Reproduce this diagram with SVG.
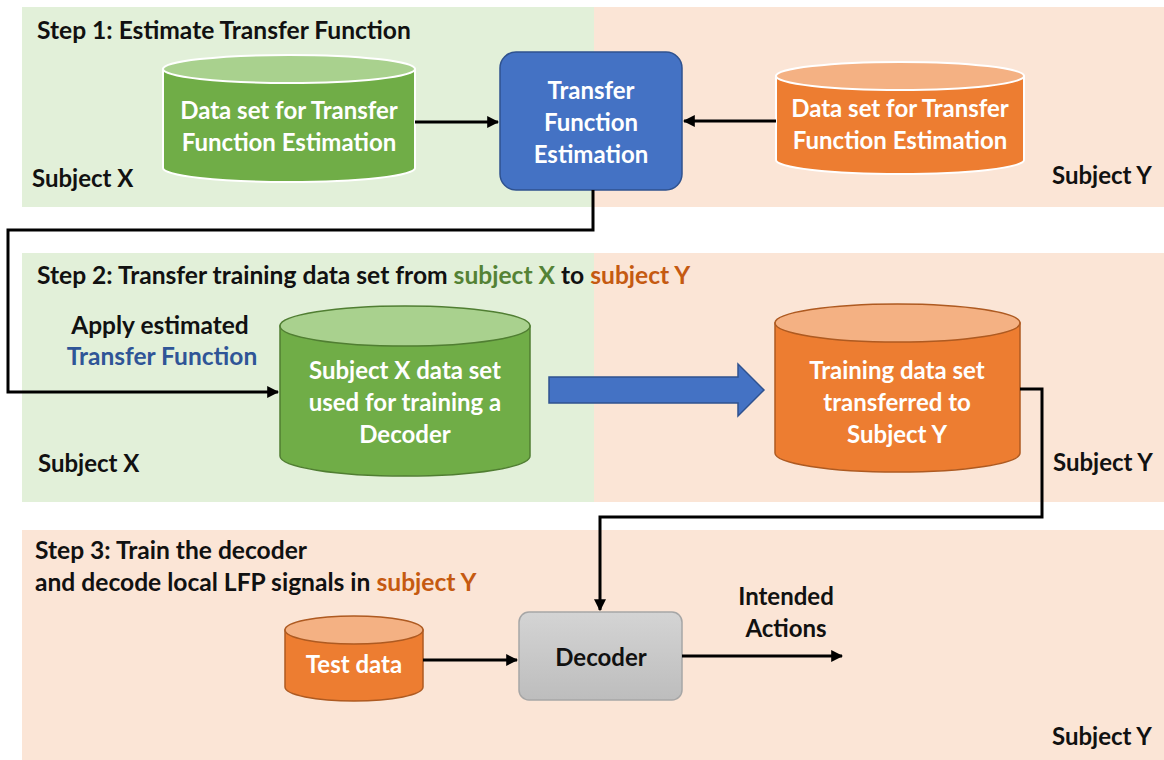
<svg xmlns="http://www.w3.org/2000/svg" width="1164" height="760" viewBox="0 0 1164 760">
  <defs>
    <style>
      text { font-family: Lato, "Liberation Sans", sans-serif; font-weight: bold; }
      .title { font-size: 24.6px; fill: #111; }
      .subj { font-size: 24px; fill: #111; }
      .lbl { font-size: 24px; fill: #ffffff; text-anchor: middle; }
      .dark { font-size: 24px; fill: #111; text-anchor: middle; }
      .gx { fill: #548235; }
      .oy { fill: #C55A11; }
      .bt { fill: #2F5597; }
      .green-body { fill: #70AD47; }
      .green-top { fill: #A9D18E; }
      .orange-body { fill: #ED7D31; }
      .orange-top { fill: #F4B183; }
      .wire { fill: none; stroke: #000; stroke-width: 3; }
    </style>
    <marker id="head" viewBox="0 0 10 10" refX="9" refY="5" markerWidth="4" markerHeight="4" orient="auto" markerUnits="strokeWidth">
      <path d="M0,0 L10,5 L0,10 Z" fill="#000"/>
    </marker>
    <linearGradient id="grey" x1="0" y1="0" x2="0" y2="1">
      <stop offset="0" stop-color="#D4D4D4"/>
      <stop offset="1" stop-color="#BDBDBD"/>
    </linearGradient>
  </defs>

  <rect width="1164" height="760" fill="#ffffff"/>

  <!-- background panels -->
  <g id="panels">
    <rect x="22" y="7" width="572" height="200" fill="#E2F0D9"/>
    <rect x="594" y="7" width="570" height="200" fill="#FBE5D6"/>
    <rect x="22" y="253" width="572" height="249" fill="#E2F0D9"/>
    <rect x="594" y="253" width="570" height="249" fill="#FBE5D6"/>
    <rect x="22" y="530" width="1142" height="230" fill="#FBE5D6"/>
  </g>

  <!-- panel captions -->
  <g id="captions">
    <text class="title" x="37" y="39">Step 1: Estimate Transfer Function</text>
    <text class="subj" x="32" y="187">Subject X</text>
    <text class="subj" x="1052" y="184">Subject Y</text>

    <text class="title" x="37" y="284">Step 2: Transfer training data set from <tspan class="gx">subject X</tspan> to <tspan class="oy">subject Y</tspan></text>
    <text class="dark" x="160" y="334" style="font-size:24.5px">Apply estimated</text>
    <text class="dark bt" x="162" y="365" style="font-size:24.5px">Transfer Function</text>
    <text class="subj" x="38" y="472">Subject X</text>
    <text class="subj" x="1053" y="471">Subject Y</text>

    <text class="title" x="35" y="559">Step 3: Train the decoder</text>
    <text class="title" x="35" y="591">and decode local LFP signals in <tspan class="oy">subject Y</tspan></text>
    <text class="subj" x="1052" y="745">Subject Y</text>
  </g>

  <!-- step 1 source data, subject X -->
  <g id="data-x1">
    <path class="green-body" stroke="#ffffff" stroke-width="2" d="M163,69 V168 A126,14 0 0 0 415,168 V69 Z"/>
    <ellipse class="green-top" stroke="#ffffff" stroke-width="2" cx="289" cy="69" rx="126" ry="14"/>
    <text class="lbl" x="289" y="119">Data set for Transfer</text>
    <text class="lbl" x="289" y="151">Function Estimation</text>
  </g>

  <!-- transfer function estimation -->
  <g id="tf-estimation">
    <rect x="500" y="52" width="182" height="138" rx="16" fill="#4472C4" stroke="#2F528F" stroke-width="1.5"/>
    <text class="lbl" x="591" y="99">Transfer</text>
    <text class="lbl" x="591" y="131">Function</text>
    <text class="lbl" x="591" y="163">Estimation</text>
  </g>

  <!-- step 1 source data, subject Y -->
  <g id="data-y1">
    <path class="orange-body" stroke="#ffffff" stroke-width="2" d="M776,76 V160 A124,14 0 0 0 1024,160 V76 Z"/>
    <ellipse class="orange-top" stroke="#ffffff" stroke-width="2" cx="900" cy="76" rx="124" ry="14"/>
    <text class="lbl" x="900" y="117">Data set for Transfer</text>
    <text class="lbl" x="900" y="149">Function Estimation</text>
  </g>

  <!-- step 2 training set, subject X -->
  <g id="train-x">
    <path class="green-body" stroke="#507E32" stroke-width="1.5" d="M280,326 V456 A125,20 0 0 0 530,456 V326 Z"/>
    <ellipse class="green-top" stroke="#507E32" stroke-width="1.5" cx="405" cy="326" rx="125" ry="20"/>
    <text class="lbl" x="405" y="379">Subject X data set</text>
    <text class="lbl" x="405" y="411">used for training a</text>
    <text class="lbl" x="405" y="443">Decoder</text>
  </g>

  <!-- transfer block arrow -->
  <g id="transfer-arrow">
    <path d="M549,377 H738 V364 L764,390 L738,416 V403 H549 Z" fill="#4472C4" stroke="#2F528F" stroke-width="1.5"/>
  </g>

  <!-- step 2 transferred set, subject Y -->
  <g id="train-y">
    <path class="orange-body" stroke="#AE5A21" stroke-width="1.5" d="M775,323 V453 A122.5,19 0 0 0 1020,453 V323 Z"/>
    <ellipse class="orange-top" stroke="#AE5A21" stroke-width="1.5" cx="897.5" cy="323" rx="122.5" ry="19"/>
    <text class="lbl" x="897" y="379">Training data set</text>
    <text class="lbl" x="897" y="411">transferred to</text>
    <text class="lbl" x="897" y="443">Subject Y</text>
  </g>

  <!-- step 3 test data -->
  <g id="test-data">
    <path class="orange-body" stroke="#AE5A21" stroke-width="1.5" d="M285,630 V687 A69,14 0 0 0 423,687 V630 Z"/>
    <ellipse class="orange-top" stroke="#AE5A21" stroke-width="1.5" cx="354" cy="630" rx="69" ry="14"/>
    <text class="lbl" x="354" y="673">Test data</text>
  </g>

  <!-- decoder -->
  <g id="decoder">
    <rect x="519" y="612" width="163" height="88" rx="10" fill="url(#grey)" stroke="#A6A6A6" stroke-width="1.5"/>
    <text class="dark" x="601" y="666">Decoder</text>
  </g>

  <!-- output label -->
  <g id="output-label">
    <text class="dark" x="786" y="605">Intended</text>
    <text class="dark" x="786" y="637">Actions</text>
  </g>

  <!-- connectors -->
  <g id="connectors">
    <path class="wire" d="M415,122 H498" marker-end="url(#head)"/>
    <path class="wire" d="M776,121 H684" marker-end="url(#head)"/>
    <path class="wire" d="M593,190 V230 H8 V392 H278" marker-end="url(#head)"/>
    <path class="wire" d="M1020,389 H1042 V517 H600 V610" marker-end="url(#head)"/>
    <path class="wire" d="M423,660 H517" marker-end="url(#head)"/>
    <path class="wire" d="M682,656 H842" marker-end="url(#head)"/>
  </g>
</svg>
